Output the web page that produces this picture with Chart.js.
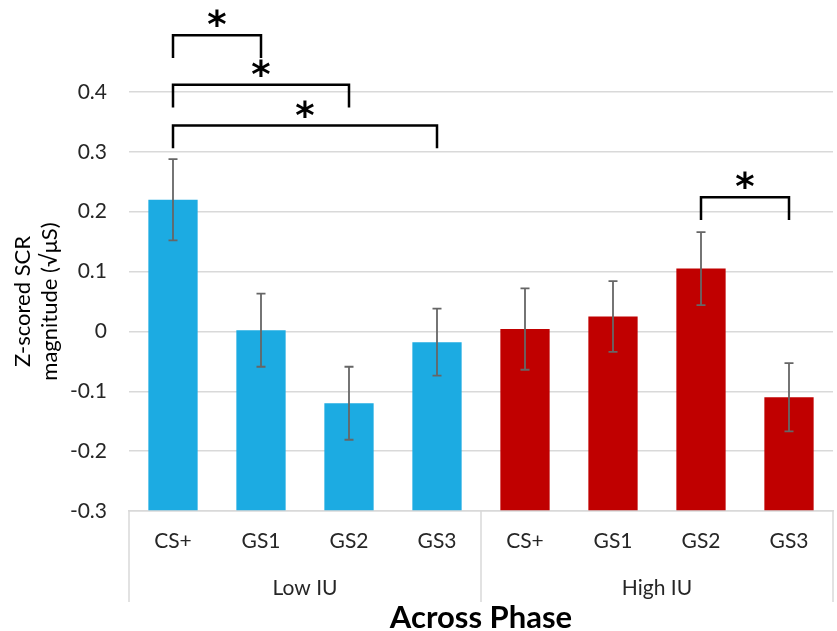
<!DOCTYPE html>
<html lang="en">
<head>
  <meta charset="UTF-8">
  <title>Across Phase - Z-scored SCR magnitude</title>
  <script src="https://cdn.jsdelivr.net/npm/chart.js"></script>
  <style>
    html, body { margin: 0; padding: 0; background: #fff; }
    #wrap { width: 837px; height: 631px; }
  </style>
</head>
<body>
  <div id="wrap"><canvas id="scrChart" width="837" height="631"></canvas></div>

  <script>
    // chart values
    const categories = ['CS+', 'GS1', 'GS2', 'GS3', 'CS+', 'GS1', 'GS2', 'GS3'];
    const groups = ['Low IU', 'High IU'];
    const lowIU  = [0.22, 0.002, -0.12, -0.018, null, null, null, null];
    const highIU = [null, null, null, null, 0.004, 0.025, 0.105, -0.11];
    const errors = [0.068, 0.061, 0.061, 0.056, 0.068, 0.059, 0.061, 0.057];
    const yTicks = [-0.3, -0.2, -0.1, 0, 0.1, 0.2, 0.3, 0.4];
    // significance brackets: [from category, to category, bracket height]
    const brackets = [
      [0, 1, 0.495],
      [0, 2, 0.412],
      [0, 3, 0.344],
      [6, 7, 0.224]
    ];

    const FONT = "Lato, 'Open Sans', sans-serif";

    // error bars on top of the bars
    const errorBars = {
      id: 'errorBars',
      afterDatasetsDraw(chart) {
        const ctx = chart.ctx;
        const y = chart.scales.y;
        ctx.save();
        ctx.strokeStyle = '#666666';
        ctx.lineWidth = 1.8;
        chart.data.datasets.forEach((ds, di) => {
          const meta = chart.getDatasetMeta(di);
          ds.data.forEach((v, i) => {
            if (v === null) return;
            const x = meta.data[i].x;
            const top = y.getPixelForValue(v + errors[i]);
            const bot = y.getPixelForValue(v - errors[i]);
            ctx.beginPath();
            ctx.moveTo(x, top); ctx.lineTo(x, bot);
            ctx.moveTo(x - 4.5, top); ctx.lineTo(x + 4.5, top);
            ctx.moveTo(x - 4.5, bot); ctx.lineTo(x + 4.5, bot);
            ctx.stroke();
          });
        });
        ctx.restore();
      }
    };

    // group box + group labels under the category labels, plus brackets
    const extras = {
      id: 'extras',
      afterDraw(chart) {
        const ctx = chart.ctx;
        const x = chart.scales.x;
        const y = chart.scales.y;
        const area = chart.chartArea;
        ctx.save();

        // separators of the two-level axis
        const mid = (x.getPixelForValue(3) + x.getPixelForValue(4)) / 2;
        ctx.strokeStyle = '#d9d9d9';
        ctx.lineWidth = 1.5;
        ctx.beginPath();
        [area.left, mid, area.right].forEach(px => {
          ctx.moveTo(px, area.bottom);
          ctx.lineTo(px, area.bottom + 91);
        });
        ctx.stroke();

        ctx.fillStyle = '#262626';
        ctx.font = '21px ' + FONT;
        ctx.textAlign = 'center';
        ctx.textBaseline = 'middle';
        ctx.fillText(groups[0], (area.left + mid) / 2, 588);
        ctx.fillText(groups[1], (mid + area.right) / 2, 588);

        // significance brackets
        ctx.strokeStyle = '#000';
        ctx.lineWidth = 2.5;
        ctx.fillStyle = '#000';
        ctx.font = "bold 37px 'DejaVu Sans', sans-serif";
        ctx.textBaseline = 'alphabetic';
        brackets.forEach(([a, b, h]) => {
          const x1 = x.getPixelForValue(a);
          const x2 = x.getPixelForValue(b);
          const top = y.getPixelForValue(h);
          const bot = y.getPixelForValue(h - 0.038);
          ctx.beginPath();
          ctx.moveTo(x1, bot);
          ctx.lineTo(x1, top);
          ctx.lineTo(x2, top);
          ctx.lineTo(x2, bot);
          ctx.stroke();
          ctx.fillText('*', (x1 + x2) / 2, top + 2);
        });
        ctx.restore();
      }
    };

    const ctx = document.getElementById('scrChart').getContext('2d');
    new Chart(ctx, {
      type: 'bar',
      data: {
        labels: categories,
        datasets: [
          {
            label: groups[0],
            data: lowIU,
            backgroundColor: '#1CABE2',
            base: -0.3,
            grouped: false,
            barPercentage: 0.56,
            categoryPercentage: 1
          },
          {
            label: groups[1],
            data: highIU,
            backgroundColor: '#C00000',
            base: -0.3,
            grouped: false,
            barPercentage: 0.56,
            categoryPercentage: 1
          }
        ]
      },
      options: {
        responsive: false,
        animation: false,
        layout: { padding: { top: 92, right: 4, left: 0, bottom: 0 } },
        plugins: {
          legend: { display: false },
          tooltip: { enabled: false }
        },
        scales: {
          x: {
            grid: { display: false, drawTicks: false },
            border: { display: true, color: '#d9d9d9', width: 1.5 },
            ticks: {
              color: '#262626',
              font: { family: FONT, size: 21 },
              padding: 18,
              maxRotation: 0
            },
            title: {
              display: true,
              text: 'Across Phase',
              color: '#000',
              font: { family: FONT, size: 31, weight: 'bold', lineHeight: 1 },
              padding: { top: 0, bottom: -2 }
            },
            afterFit(scale) { scale.height = 120; }
          },
          y: {
            min: -0.3,
            max: 0.4,
            afterBuildTicks(scale) {
              scale.ticks = yTicks.map(v => ({ value: v }));
            },
            grid: { color: '#d9d9d9', lineWidth: 1.5, drawTicks: false },
            border: { display: false },
            ticks: {
              color: '#262626',
              font: { family: FONT, size: 21 },
              padding: 22,
              callback: v => String(Number(v.toFixed(1)))
            },
            title: {
              display: true,
              text: ['Z-scored SCR', 'magnitude (√μS)'],
              color: '#000',
              font: { family: FONT, size: 22, lineHeight: 1.25 },
              padding: { top: 9, bottom: 0 }
            },
            afterFit(scale) { scale.width = 129; }
          }
        }
      },
      plugins: [errorBars, extras]
    });
  </script>
</body>
</html>
